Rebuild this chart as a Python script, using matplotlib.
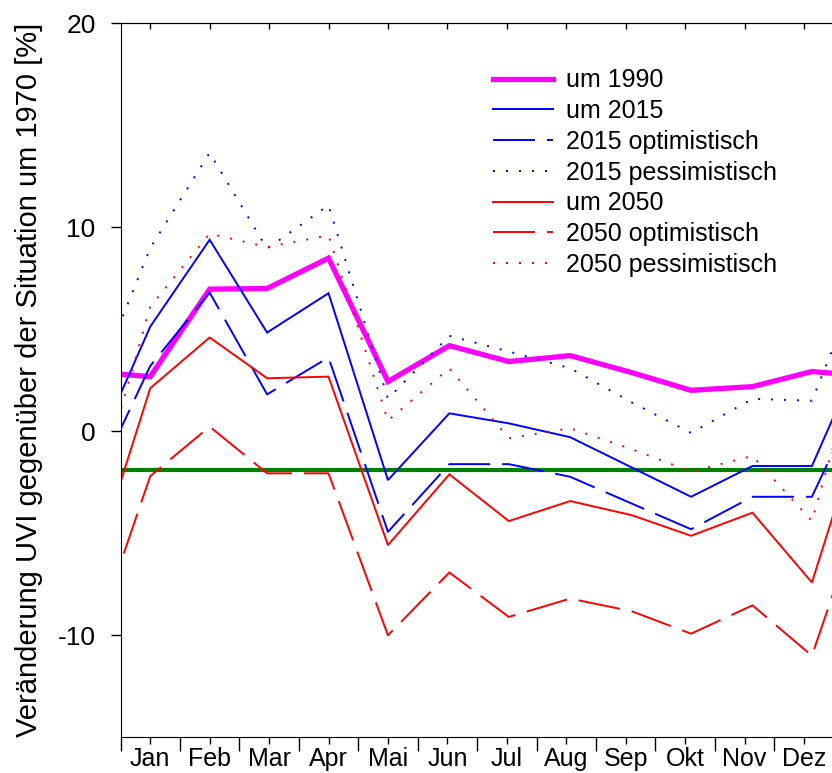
import numpy as np
import matplotlib
matplotlib.use("Agg")
import matplotlib.pyplot as plt

plt.rcParams['font.family'] = ['Liberation Sans', 'DejaVu Sans']

# Monatsmitte (Tag im Jahr) und Beschriftung
month_days = [15, 45, 74, 105, 135, 166, 196, 227, 258, 288, 319, 349]
month_labels = ['Jan', 'Feb', 'Mar', 'Apr', 'Mai', 'Jun', 'Jul', 'Aug', 'Sep', 'Okt', 'Nov', 'Dez']

# Veraenderung UVI [%] je Monat
um_1990 = [2.68, 6.97, 7.0, 8.49, 2.44, 4.20, 3.42, 3.71, 2.88, 2.01, 2.19, 2.93]
um_2015 = [5.13, 9.39, 4.84, 6.77, -2.39, 0.88, 0.39, -0.29, -1.77, -3.21, -1.70, -1.70]
opt_2015 = [3.2, 6.8, 1.81, 3.62, -4.93, -1.61, -1.61, -2.23, -3.54, -4.80, -3.21, -3.21]
pess_2015 = [8.98, 13.65, 8.95, 11.08, 1.6, 4.68, 3.91, 3.09, 1.42, -0.08, 1.59, 1.50]
um_2050 = [2.11, 4.6, 2.60, 2.68, -5.58, -2.11, -4.40, -3.42, -4.11, -5.12, -3.99, -7.41]
opt_2050 = [-2.2, 0.23, -2.06, -2.06, -10.0, -6.92, -9.10, -8.2, -8.82, -9.92, -8.53, -11.0]
pess_2050 = [6.1, 9.69, 9.03, 9.6, 0.52, 3.09, -0.34, 0.15, -0.87, -1.98, -1.21, -4.40]

reference_level = -1.9

series = [
  ('um 1990', um_1990, '#ff00ff', 'solid', 3.8),
  ('um 2015', um_2015, '#0000ff', 'solid', 1.4),
  ('2015 optimistisch', opt_2015, '#0000ff', 'dashed', 1.4),
  ('2015 pessimistisch', pess_2015, '#0000ff', 'dotted', 1.4),
  ('um 2050', um_2050, '#ff0000', 'solid', 1.4),
  ('2050 optimistisch', opt_2050, '#ff0000', 'dashed', 1.4),
  ('2050 pessimistisch', pess_2050, '#ff0000', 'dotted', 1.4),
]


def wrap(days, values):
  # Jahreszyklus: Dezember davor und Januar danach anhaengen
  x = [days[-1] - 365] + list(days) + [days[0] + 365]
  y = [values[-1]] + list(values) + [values[0]]
  return x, y


def main() -> None:
  fig = plt.figure(figsize=(8.32, 7.73), dpi=100)
  ax = fig.add_axes([120.5 / 832, 35.7 / 773, 713.2 / 832, 714.0 / 773])

  for label, values, color, style, lw in series:
    x, y = wrap(month_days, values)
    if style == 'dashed':
      ls = (0, (42 * 0.72 / lw, 12 * 0.72 / lw))
    elif style == 'dotted':
      ls = (0, (2.0 * 0.72 / lw, 11 * 0.72 / lw))
    else:
      ls = '-'
    ax.plot(x, y, color=color, linestyle=ls, linewidth=lw, label=label,
            solid_joinstyle='miter', dash_capstyle='butt')

  ax.axhline(reference_level, color='#007f00', linewidth=3.0, zorder=1)

  ax.set_xlim(0, 360)
  ax.set_ylim(-15, 20)

  ax.set_xticks(np.arange(0, 361, 30))
  ax.set_xticklabels([])
  ax.set_xticks(np.arange(15, 360, 30), minor=True)
  ax.set_xticklabels(month_labels, minor=True, fontsize=18)
  ax.tick_params(axis='x', which='major', direction='out', length=10, width=1.0)
  ax.tick_params(axis='x', which='minor', direction='out', length=5, width=1.0, pad=2.2)

  top = ax.secondary_xaxis('top')
  top.set_xticks(np.arange(15, 360, 30))
  top.tick_params(direction='in', length=4, width=1.0, labeltop=False)

  ax.set_yticks([-10, 0, 10, 20])
  ax.set_yticklabels(['-10', '0', '10', '20'], fontsize=19)
  ax.tick_params(axis='y', direction='out', length=7, width=1.0, pad=11)

  ax.spines['right'].set_visible(False)

  ax.set_ylabel('Veränderung UVI gegenüber der Situation um 1970 [%]', fontsize=21)
  ax.yaxis.set_label_coords(-0.108, 0.5)

  ax.legend(loc='upper left', bbox_to_anchor=(0.522, 0.937), frameon=False,
            fontsize=18, handlelength=2.4, handletextpad=0.52, labelspacing=0.27,
            borderpad=0, borderaxespad=0)

  plt.savefig('out.png', dpi=100)
  plt.close()


if __name__ == "__main__":
  main()
